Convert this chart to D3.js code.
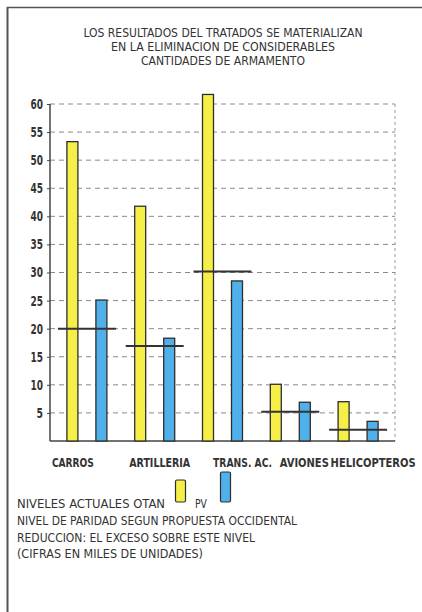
<!DOCTYPE html>
<html>
<head>
<meta charset="utf-8">
<script src="https://cdn.jsdelivr.net/npm/d3@7"></script>
<style>
  html, body { margin: 0; padding: 0; background: #fff; }
  svg { display: block; }
  text { font-family: "DejaVu Sans Condensed", "Liberation Sans Narrow", "Roboto", sans-serif; font-stretch: condensed; }
</style>
</head>
<body>
<svg id="chart"></svg>
<script>
// Data (thousands of units)
const categories = ["CARROS", "ARTILLERIA", "TRANS. AC.", "AVIONES", "HELICOPTEROS"];
const otanValues = [53.3, 41.8, 61.7, 10.1, 7.0];
const pvValues = [25.1, 18.3, 28.5, 6.9, 3.5];
const parityValues = [20.0, 16.9, 30.2, 5.2, 2.0];
const yTicks = [5, 10, 15, 20, 25, 30, 35, 40, 45, 50, 55, 60];
const titleLines = [
  "LOS RESULTADOS DEL TRATADOS SE MATERIALIZAN",
  "EN LA ELIMINACION DE CONSIDERABLES",
  "CANTIDADES DE ARMAMENTO"
];
const noteLines = [
  "NIVEL DE PARIDAD SEGUN PROPUESTA OCCIDENTAL",
  "REDUCCION: EL EXCESO SOBRE ESTE NIVEL",
  "(CIFRAS EN MILES DE UNIDADES)"
];

const W = 422, H = 612;
const PLOT = { left: 50, right: 395, top: 104, bottom: 441 };
const YELLOW = "#f5ef48";
const BLUE = "#4fb0ea";
const INK = "#2e2e2e";
const BAR_W = 11;
const PAIR_OFFSET = 14.5;
const TITLE_LEN = [279, 224, 164];
const LABEL_LEN = [42, 61, 59, 49, 85];
const LABEL_DX = [-14, 5, 20, 14, 15];
const NOTE_LEN = [280, 238, 186];

const svg = d3.select("#chart").attr("width", W).attr("height", H);
svg.append("rect").attr("width", W).attr("height", H).attr("fill", "#fff");

// Frame
svg.append("line").attr("x1", 7).attr("x2", W).attr("y1", 7.5).attr("y2", 7.5)
  .attr("stroke", "#555").attr("stroke-width", 1.6);
svg.append("line").attr("x1", 7.5).attr("x2", 7.5).attr("y1", 7).attr("y2", H)
  .attr("stroke", "#555").attr("stroke-width", 2);

// Title
svg.append("g").selectAll("text").data(titleLines).join("text")
  .attr("x", 223).attr("y", (d, i) => 37 + i * 14)
  .attr("text-anchor", "middle").attr("font-size", "11.5px").attr("fill", "#333")
  .attr("textLength", (d, i) => TITLE_LEN[i]).attr("lengthAdjust", "spacingAndGlyphs")
  .text(d => d);

const x = d3.scaleBand().domain(categories).range([53, 392]);
const y = d3.scaleLinear().domain([0, 60]).range([PLOT.bottom, PLOT.top]);
const cx = c => x(c) + x.bandwidth() / 2;

// Grid
svg.append("g").selectAll("line").data(yTicks).join("line")
  .attr("x1", PLOT.left).attr("x2", PLOT.right)
  .attr("y1", d => y(d)).attr("y2", d => y(d))
  .attr("stroke", "#8a8a8a").attr("stroke-width", 1).attr("stroke-dasharray", "5,4");
svg.append("line").attr("x1", PLOT.right).attr("x2", PLOT.right)
  .attr("y1", y(60)).attr("y2", PLOT.bottom)
  .attr("stroke", "#9a9a9a").attr("stroke-width", 1).attr("stroke-dasharray", "3,3");

// Y axis
const yAxis = svg.append("g").attr("transform", `translate(${PLOT.left},0)`)
  .call(d3.axisLeft(y).tickValues(yTicks).tickSize(3).tickPadding(4))
  .call(ax => ax.select(".domain").attr("stroke", "#444").attr("stroke-width", 1.5)
    .attr("d", `M0,${y(60)}V${PLOT.bottom}`));
yAxis.selectAll(".tick line").attr("stroke", "#444");
yAxis.selectAll(".tick text").attr("font-size", "14px").attr("font-weight", "bold")
  .attr("fill", "#333").attr("font-family", null)
  .attr("textLength", d => d < 10 ? 6.5 : 12.5).attr("lengthAdjust", "spacingAndGlyphs");

// Baseline
svg.append("line").attr("x1", PLOT.left).attr("x2", PLOT.right)
  .attr("y1", PLOT.bottom).attr("y2", PLOT.bottom)
  .attr("stroke", "#444").attr("stroke-width", 1.5);

// Bars
const drawBars = (values, color, dx) => {
  svg.append("g").selectAll("rect").data(values).join("rect")
    .attr("x", (d, i) => cx(categories[i]) + dx - BAR_W / 2)
    .attr("y", d => y(d))
    .attr("width", BAR_W)
    .attr("height", d => PLOT.bottom - y(d))
    .attr("fill", color).attr("stroke", INK).attr("stroke-width", 1.3);
};
drawBars(otanValues, YELLOW, -PAIR_OFFSET);
drawBars(pvValues, BLUE, PAIR_OFFSET);

// Parity levels
svg.append("g").selectAll("line").data(parityValues).join("line")
  .attr("x1", (d, i) => cx(categories[i]) - 29)
  .attr("x2", (d, i) => cx(categories[i]) + 29)
  .attr("y1", d => y(d)).attr("y2", d => y(d))
  .attr("stroke", "#333").attr("stroke-width", 2);

// Category labels
svg.append("g").selectAll("text").data(categories).join("text")
  .attr("x", (d, i) => cx(d) + LABEL_DX[i]).attr("y", 467)
  .attr("text-anchor", "middle").attr("font-size", "12px").attr("font-weight", "bold")
  .attr("fill", "#333")
  .attr("textLength", (d, i) => LABEL_LEN[i]).attr("lengthAdjust", "spacingAndGlyphs")
  .text(d => d);

// Legend
svg.append("text").attr("x", 17).attr("y", 508).attr("font-size", "11.5px").attr("fill", "#333")
  .attr("textLength", 148).attr("lengthAdjust", "spacingAndGlyphs")
  .text("NIVELES ACTUALES  OTAN");
svg.append("rect").attr("x", 175.5).attr("y", 480).attr("width", 10).attr("height", 22).attr("rx", 1.5)
  .attr("fill", YELLOW).attr("stroke", INK).attr("stroke-width", 1.2);
svg.append("text").attr("x", 195).attr("y", 508).attr("font-size", "11.5px").attr("fill", "#333")
  .attr("textLength", 12).attr("lengthAdjust", "spacingAndGlyphs").text("PV");
svg.append("rect").attr("x", 220.5).attr("y", 472).attr("width", 10).attr("height", 30).attr("rx", 1.5)
  .attr("fill", BLUE).attr("stroke", INK).attr("stroke-width", 1.2);

svg.append("g").selectAll("text").data(noteLines).join("text")
  .attr("x", 17).attr("y", (d, i) => 525 + i * 16.5)
  .attr("font-size", "11.5px").attr("fill", "#333")
  .attr("textLength", (d, i) => NOTE_LEN[i]).attr("lengthAdjust", "spacingAndGlyphs")
  .text(d => d);
</script>
</body>
</html>
